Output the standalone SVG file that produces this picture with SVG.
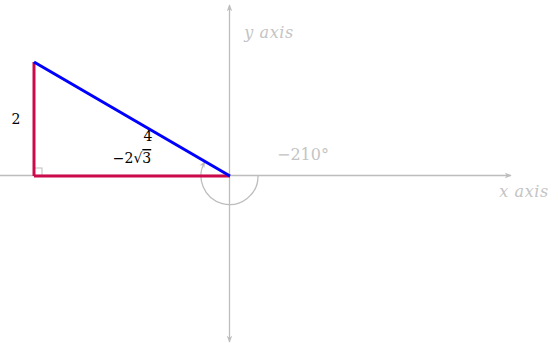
<svg xmlns="http://www.w3.org/2000/svg" width="558" height="343" viewBox="0 0 558 343">
<style>
.axis{stroke:#bdbdbd;stroke-width:1.3;fill:none}
.lbl{font-family:'DejaVu Serif',serif;font-size:14px;fill:#000}
.glbl{font-family:'DejaVu Serif',serif;font-size:16px;font-style:italic;fill:#c4c4c4;letter-spacing:0.6px}
.leg{stroke:#cc0a4a;stroke-width:3;fill:none}
.hyp{stroke:#0000ff;stroke-width:3;fill:none}
</style>
<defs>
<marker id="ah" viewBox="0 0 10 10" refX="9" refY="5" markerWidth="7" markerHeight="7" orient="auto-start-reverse" markerUnits="userSpaceOnUse">
<path d="M0,1 L10,5 L0,9 L3,5 Z" fill="#bdbdbd"/>
</marker>
</defs>
<g id="connectors">
<line class="axis" x1="0" y1="175.5" x2="511" y2="175.5" marker-end="url(#ah)"/>
<line class="axis" x1="229.5" y1="342" x2="229.5" y2="5" marker-end="url(#ah)" marker-start="url(#ah)"/>
<path class="axis" d="M258,175.5 A28.5,28.5 0 1 1 205,161.5" marker-end="url(#ah)"/>
</g>
<g id="triangle">
<rect x="34" y="168" width="8" height="8" fill="none" stroke="#bdbdbd" stroke-width="1"/>
<line class="leg" x1="34" y1="176" x2="34" y2="62"/>
<line class="leg" x1="34" y1="176" x2="230" y2="176"/>
<line class="hyp" x1="34" y1="62" x2="230" y2="176"/>
</g>
<g id="labels">
<text class="lbl" x="16" y="124" text-anchor="middle">2</text>
<text class="lbl" x="148" y="141" text-anchor="middle">4</text>
<text class="lbl" x="132" y="163" text-anchor="middle">−2√<tspan style="text-decoration:overline">3</tspan></text>
<text class="glbl" x="303" y="160" text-anchor="middle" style="font-style:normal;letter-spacing:0">−210°</text>
<text class="glbl" x="269" y="38" text-anchor="middle">y axis</text>
<text class="glbl" x="524" y="197" text-anchor="middle">x axis</text>
</g>
</svg>
